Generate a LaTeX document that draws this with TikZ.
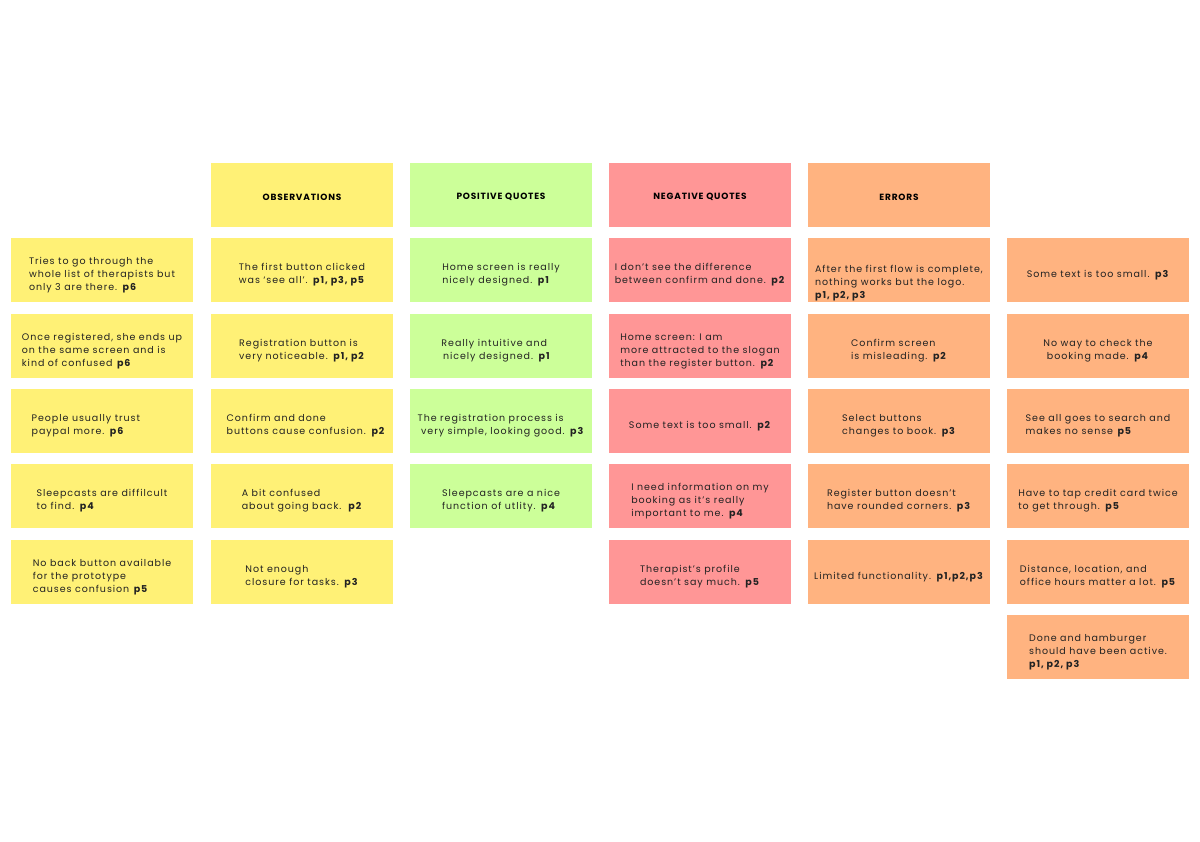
\documentclass[tikz,border=0pt]{standalone}
\usepackage{fontspec}
\setmainfont{Poppins}[LetterSpace=10]
\newfontfamily\headfont{Poppins}[LetterSpace=9]

\definecolor{obsyellow}{RGB}{255,241,118}
\definecolor{posgreen}{RGB}{204,255,153}
\definecolor{negred}{RGB}{255,150,150}
\definecolor{errorange}{RGB}{255,179,128}
\definecolor{notetext}{RGB}{34,34,34}

\newcommand{\pp}[1]{\textbf{#1}}
\newcommand{\pad}[1]{\rule{#1}{0pt}}

\tikzset{
  drop/.style={execute at begin node={\vbox\bgroup\vskip#1\hbox\bgroup},
    execute at end node={\egroup\egroup}},
  note/.style={rectangle, minimum width=182pt, minimum height=64pt,
    inner sep=0pt, align=left, text=notetext, drop=10pt,
    font=\fontsize{9.5}{13}\selectfont},
  headnote/.style={rectangle, minimum width=182pt, minimum height=64pt,
    inner sep=0pt, align=center, text=black, drop=4pt,
    font=\headfont\bfseries\fontsize{9}{11}\selectfont},
  obsnote/.style={note, fill=obsyellow},
  posnote/.style={note, fill=posgreen},
  negnote/.style={note, fill=negred},
  errnote/.style={note, fill=errorange}
}

\begin{document}
\begin{tikzpicture}[x=1pt,y=-1pt]
  \path[fill=white] (0,0) rectangle (1200,842);
  \useasboundingbox (0,0) rectangle (1200,842);

  % headers
  \node[headnote, fill=obsyellow] (obsHead) at (302,195) {OBSERVATIONS};
  \node[headnote, fill=posgreen] (posHead) at (501,195) {POSITIVE QUOTES};
  \node[headnote, fill=negred] (negHead) at (700,195) {NEGATIVE QUOTES};
  \node[headnote, fill=errorange] (errHead) at (899,195) {ERRORS};

  % observations, first column
  \node[obsnote] (side1) at (102,270) {Tries to go through the\\whole list of therapists but\\only 3 are there. \pp{p6}};
  \node[obsnote] (side2) at (102,346) {Once registered, she ends up\\on the same screen and is\\kind of confused \pp{p6}};
  \node[obsnote] (side3) at (102,421) {People usually trust\\paypal more. \pp{p6}\pad{48pt}};
  \node[obsnote] (side4) at (102,496) {Sleepcasts are diffilcult\\to find. \pp{p4}};
  \node[obsnote] (side5) at (102,572) {No back button available\\for the prototype\\causes confusion \pp{p5}};

  % observations
  \node[obsnote] (obs1) at (302,270) {The first button clicked\\was `see all'. \pp{p1, p3, p5}};
  \node[obsnote] (obs2) at (302,346) {Registration button is\\very noticeable. \pp{p1, p2}};
  \node[obsnote] (obs3) at (302,421) {\pad{8pt}Confirm and done\\\pad{8pt}buttons cause confusion. \pp{p2}};
  \node[obsnote] (obs4) at (302,496) {A bit confused\\about going back.\ \ \pp{p2}};
  \node[obsnote] (obs5) at (302,572) {Not enough\\closure for tasks. \pp{p3}};

  % positive quotes
  \node[posnote] (pos1) at (501,270) {Home screen is really\\nicely designed. \pp{p1}};
  \node[posnote] (pos2) at (501,346) {Really intuitive and\\\,nicely designed. \pp{p1}\pad{10pt}};
  \node[posnote] (pos3) at (501,421) {The registration process is\\\ very simple, looking good. \pp{p3}};
  \node[posnote] (pos4) at (501,496) {Sleepcasts are a nice\\function of utlity. \pp{p4}};

  % negative quotes
  \node[negnote] (neg1) at (700,270) {I don't see the difference\\between confirm and done. \pp{p2}};
  \node[negnote] (neg2) at (700,346) {Home screen: I am\\more attracted to the slogan\\than the register button. \pp{p2}};
  \node[negnote] (neg3) at (700,421) {Some text is too small. \pp{p2}};
  \node[negnote] (neg4) at (700,496) {I need information on my\\booking as it's really\\important to me. \pp{p4}};
  \node[negnote] (neg5) at (700,572) {Therapist's profile\\doesn't say much. \pp{p5}};

  % errors
  \node[errnote, drop=16pt] (err1) at (899,270) {After the first flow is complete,\\nothing works but the logo.\\\pp{p1, p2, p3}};
  \node[errnote] (err2) at (899,346) {Confirm screen\\is misleading. \pp{p2}};
  \node[errnote] (err3) at (899,421) {Select buttons\\changes to book. \pp{p3}};
  \node[errnote] (err4) at (899,496) {Register button doesn't\\have rounded corners. \pp{p3}};
  \node[errnote] (err5) at (899,572) {Limited functionality. \pp{p1,p2,p3}};

  % errors, last column
  \node[errnote] (errB1) at (1098,270) {Some text is too small. \pp{p3}};
  \node[errnote, align=center] (errB2) at (1098,346) {No way to check the\\booking made. \pp{p4}};
  \node[errnote] (errB3) at (1098,421) {See all goes to search and\\makes no sense \pp{p5}};
  \node[errnote] (errB4) at (1098,496) {Have to tap credit card twice\\to get through. \pp{p5}};
  \node[errnote] (errB5) at (1098,572) {Distance, location, and\\office hours matter a lot. \pp{p5}};
  \node[errnote] (errB6) at (1098,647) {Done and hamburger\\should have been active.\\\pp{p1, p2, p3}};
\end{tikzpicture}
\end{document}
